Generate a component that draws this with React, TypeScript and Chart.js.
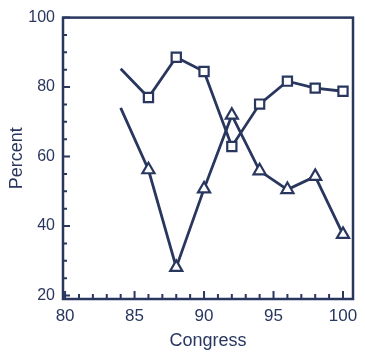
import React, { useEffect, useRef } from "react";
import { Chart, registerables } from "chart.js";

Chart.register(...registerables);

const congress = [84, 86, 88, 90, 92, 94, 96, 98, 100];
const squareSeries = [85.3, 77.0, 88.6, 84.5, 62.9, 75.1, 81.7, 79.7, 78.8];
const triangleSeries = [74.0, 56.2, 28.1, 50.7, 71.9, 55.9, 50.5, 54.3, 37.6];
const xTicks = [80, 85, 90, 95, 100];
const yTicks = [20, 40, 60, 80, 100];
const xMinorTicks = [80, 81, 82, 83, 84, 85, 86, 87, 88, 89, 90, 91, 92, 93, 94, 95, 96, 97, 98, 99, 100];
const yMinorTicks = [20, 25, 30, 35, 40, 45, 50, 55, 60, 65, 70, 75, 80, 85, 90, 95, 100];

const NAVY = "#29375f";
const FONT = "'Liberation Sans', Arial, Helvetica, sans-serif";

const frameTicks = {
  id: "frameTicks",
  beforeDatasetsDraw(chart: any) {
    const { ctx, chartArea } = chart;
    const xs = chart.scales.x;
    const ys = chart.scales.y;
    ctx.save();
    ctx.strokeStyle = NAVY;
    ctx.lineWidth = 2.5;
    ctx.strokeRect(chartArea.left, chartArea.top, chartArea.right - chartArea.left, chartArea.bottom - chartArea.top);
    ctx.lineWidth = 2;
    ctx.beginPath();
    xMinorTicks.forEach((v) => {
      const px = xs.getPixelForValue(v);
      const len = xTicks.includes(v) ? 8 : 5;
      ctx.moveTo(px, chartArea.bottom);
      ctx.lineTo(px, chartArea.bottom - len);
    });
    yMinorTicks.forEach((v) => {
      const py = ys.getPixelForValue(v);
      const len = yTicks.includes(v) ? 7 : 4;
      ctx.moveTo(chartArea.left, py);
      ctx.lineTo(chartArea.left + len, py);
    });
    ctx.stroke();
    ctx.restore();
  },
};

export default function App() {
  const ref = useRef<HTMLCanvasElement | null>(null);

  useEffect(() => {
    if (!ref.current) return;
    const chart = new Chart(ref.current, {
      type: "line",
      data: {
        datasets: [
          {
            data: congress.map((x, i) => ({ x, y: squareSeries[i] })),
            borderColor: NAVY,
            borderWidth: 2.8,
            pointStyle: "rect",
            pointRadius: (c: any) => (c.dataIndex === 0 ? 0 : 6.5),
            pointBorderWidth: 2.2,
            pointBorderColor: NAVY,
            pointBackgroundColor: "#ffffff",
            tension: 0,
            clip: false as any,
          },
          {
            data: congress.map((x, i) => ({ x, y: triangleSeries[i] })),
            borderColor: NAVY,
            borderWidth: 2.8,
            pointStyle: "triangle",
            pointRadius: (c: any) => (c.dataIndex === 0 ? 0 : 7),
            pointBorderWidth: 2.2,
            pointBorderColor: NAVY,
            pointBackgroundColor: "#ffffff",
            tension: 0,
            clip: false as any,
          },
        ],
      },
      options: {
        animation: false,
        responsive: false,
        devicePixelRatio: 1,
        layout: { padding: { top: 15, right: 12, left: 0, bottom: 0 } },
        plugins: { legend: { display: false }, tooltip: { enabled: false }, title: { display: false } },
        scales: {
          x: {
            type: "linear",
            min: 79.85,
            max: 100.72,
            grid: { display: false, drawTicks: false },
            border: { display: false },
            afterBuildTicks: (s: any) => {
              s.ticks = xTicks.map((value) => ({ value }));
            },
            afterFit: (s: any) => {
              s.height = 53;
            },
            ticks: {
              color: NAVY,
              padding: 7,
              maxRotation: 0,
              autoSkip: false,
              font: { family: FONT, size: 17 },
            },
            title: {
              display: true,
              text: "Congress",
              color: NAVY,
              font: { family: FONT, size: 18 },
              padding: { top: 0, bottom: 0 },
            },
          },
          y: {
            type: "linear",
            min: 19,
            max: 100,
            grid: { display: false, drawTicks: false },
            border: { display: false },
            afterBuildTicks: (s: any) => {
              s.ticks = yTicks.map((value) => ({ value }));
            },
            afterFit: (s: any) => {
              s.width = 63;
            },
            ticks: {
              color: NAVY,
              padding: 8,
              autoSkip: false,
              font: { family: FONT, size: 16 },
            },
            title: {
              display: true,
              text: "Percent",
              color: NAVY,
              font: { family: FONT, size: 18 },
              padding: { top: 6, bottom: 0 },
            },
          },
        },
      },
      plugins: [frameTicks],
    });
    return () => chart.destroy();
  }, []);

  return (
    <div style={{ position: "fixed", left: 0, top: 0, width: 365, height: 352, background: "#ffffff" }}>
      <canvas ref={ref} width={365} height={352} style={{ display: "block", width: 365, height: 352 }} />
    </div>
  );
}
